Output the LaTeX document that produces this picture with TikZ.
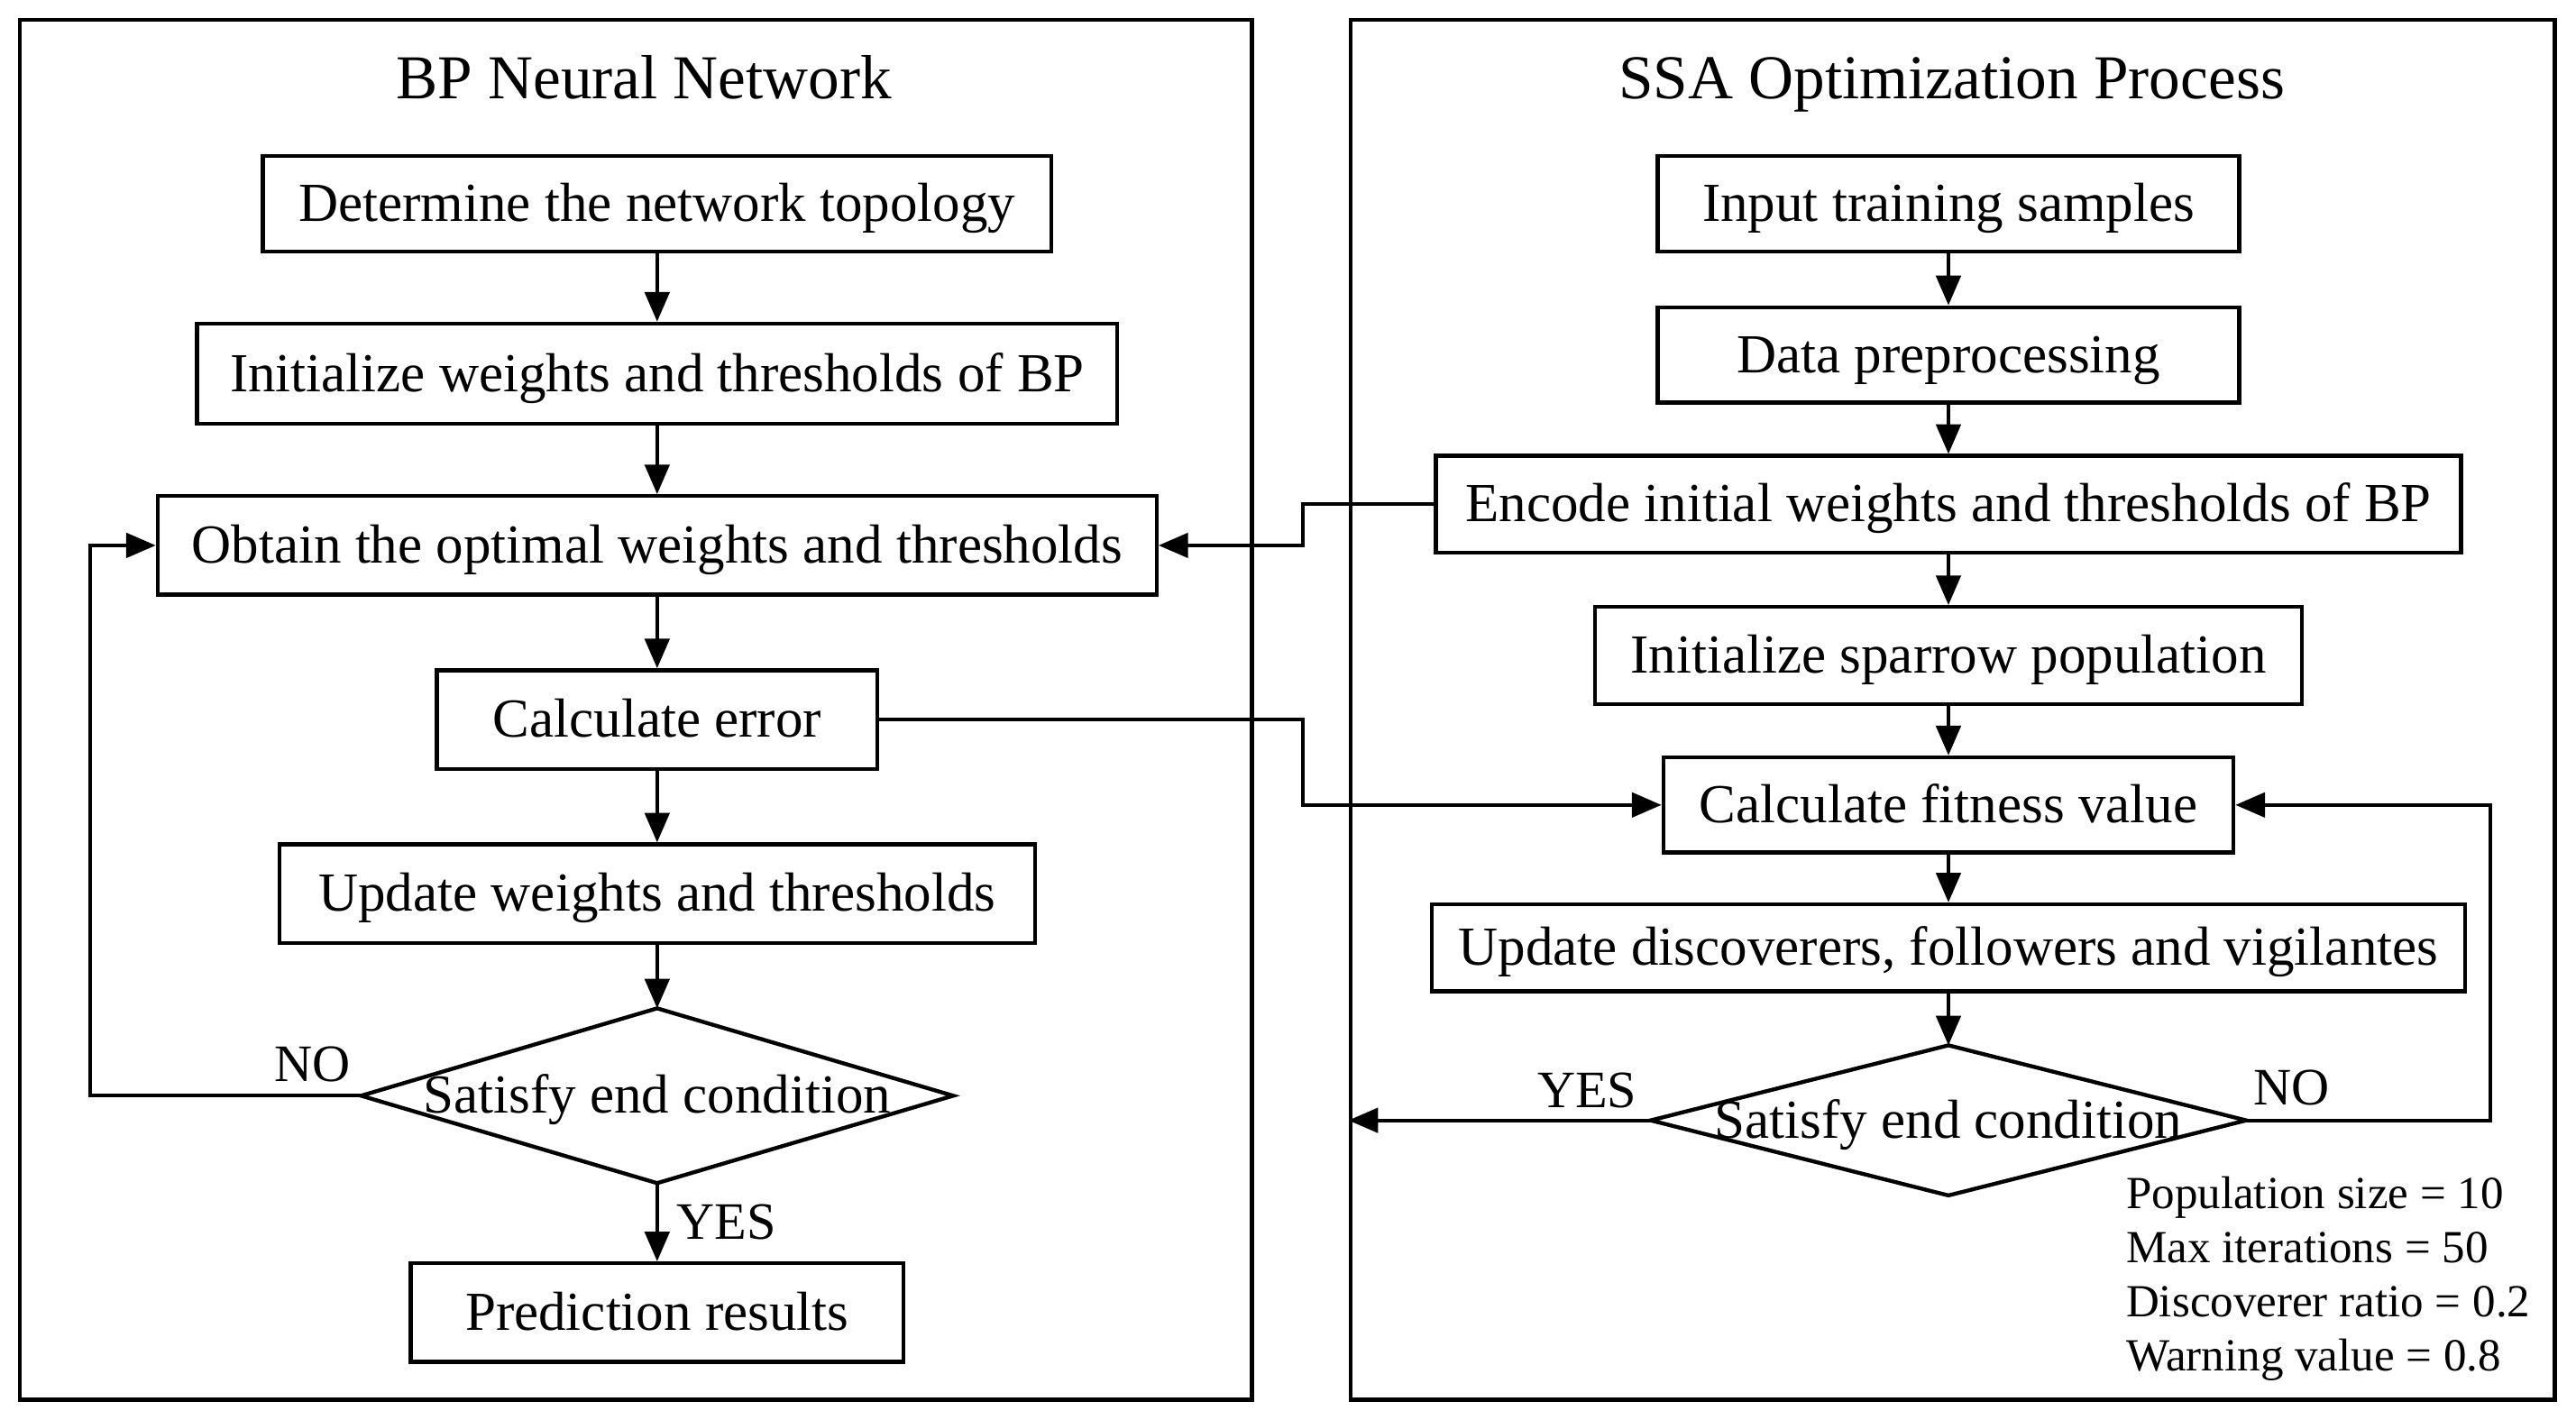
\documentclass[tikz,border=0pt]{standalone}
\usepackage{fontspec}
\setmainfont{Liberation Serif}
\usetikzlibrary{arrows.meta}
\begin{document}
\begin{tikzpicture}[x=1pt,y=-1pt,
  panel/.style={draw, line width=2.4pt, rectangle, inner sep=0pt},
  box/.style={draw, line width=2.4pt, rectangle, inner sep=0pt, minimum height=59pt, text height=28.8pt, text depth=7.4pt, font=\fontsize{33.5}{40}\selectfont},
  dtext/.style={rectangle, inner sep=0pt, text height=28.8pt, text depth=7.4pt, font=\fontsize{33.5}{40}\selectfont},
  dshape/.style={draw, line width=2.4pt, line join=miter},
  conn/.style={line width=2.1pt},
  arr/.style={conn, -{Triangle[length=18pt,width=15pt]}},
  lab/.style={inner sep=0pt, font=\fontsize{32}{38}\selectfont},
  ttl/.style={inner sep=0pt, text height=32.7pt, text depth=8.4pt, font=\fontsize{38}{44}\selectfont}
]
\useasboundingbox (0,0) rectangle (1568,864);
\fill[white] (0,0) rectangle (1568,864);

% panels
\node[panel, minimum width=750pt, minimum height=840pt] (panelL) at (387,432) {};
\node[panel, minimum width=733pt, minimum height=840pt] (panelR) at (1188.5,432) {};
\node[ttl] (tL) at (392,48) {BP Neural Network};
\node[ttl] (tR) at (1188,48) {SSA Optimization Process};

% left column
\node[box, minimum width=480pt, minimum height=58pt] (det) at (400,124) {Determine the network topology};
\node[box, minimum width=560pt, minimum height=61pt] (ini) at (400,227.5) {Initialize weights and thresholds of BP};
\node[box, minimum width=608pt, minimum height=60pt] (obt) at (400,332) {Obtain the optimal weights and thresholds};
\node[box, minimum width=268pt, minimum height=60pt] (cerr) at (400,438) {Calculate error};
\node[box, minimum width=460pt, minimum height=60pt] (upd) at (400,544) {Update weights and thresholds};
\node[dtext, minimum width=360pt, minimum height=106pt] (dia1) at (400,667) {Satisfy end condition};
\draw[dshape] (dia1.west) -- (dia1.north) -- (dia1.east) -- (dia1.south) -- cycle;
\node[box, minimum width=300pt, minimum height=60pt] (pred) at (400,799) {Prediction results};

% right column
\node[box, minimum width=354pt, minimum height=58pt] (inp) at (1186,124) {Input training samples};
\node[box, minimum width=354pt, minimum height=58pt] (dpre) at (1186,216) {Data preprocessing};
\node[box, minimum width=624pt, minimum height=59pt] (enc) at (1186,307) {Encode initial weights and thresholds of BP};
\node[box, minimum width=430pt, minimum height=59pt] (isp) at (1186,399) {Initialize sparrow population};
\node[box, minimum width=347pt, minimum height=58pt] (cfit) at (1186,490) {Calculate fitness value};
\node[box, minimum width=629pt, minimum height=53pt] (upd2) at (1186,577) {Update discoverers, followers and vigilantes};
\node[dtext, minimum width=362pt, minimum height=91pt] (dia2) at (1186,682) {Satisfy end condition};
\draw[dshape] (dia2.west) -- (dia2.north) -- (dia2.east) -- (dia2.south) -- cycle;

% parameters
\node[anchor=north west, inner sep=0pt, align=left, font=\fontsize{28}{33}\selectfont] (par) at (1294,716)
  {Population size = 10\\Max iterations = 50\\Discoverer ratio = 0.2\\Warning value = 0.8};

% left arrows
\draw[arr] (det) -- (ini);
\draw[arr] (ini) -- (obt);
\draw[arr] (obt) -- (cerr);
\draw[arr] (cerr) -- (upd);
\draw[arr] (upd) -- (dia1.north);
\draw[arr] (dia1.south) -- (pred);
\coordinate (lx) at (55,667);
\draw[arr] (dia1.west) -- (lx) |- (obt.west);
\node[lab] (noL) at (190,648) {NO};
\node[lab] (yesL) at (442,744) {YES};

% right arrows
\draw[arr] (inp) -- (dpre);
\draw[arr] (dpre) -- (enc);
\draw[arr] (enc) -- (isp);
\draw[arr] (isp) -- (cfit);
\draw[arr] (cfit) -- (upd2);
\draw[arr] (upd2) -- (dia2.north);
\coordinate (rx) at (1516,682);
\draw[arr] (dia2.east) -- (rx) |- (cfit.east);
\coordinate (yx) at (panelR.west |- dia2.west);
\draw[arr] (dia2.west) -- (yx);
\node[lab] (yesR) at (966,664) {YES};
\node[lab] (noR) at (1395,662) {NO};

% cross connectors
\coordinate (m1) at (793,307);
\draw[arr] (enc.west) -- (m1) |- (obt.east);
\coordinate (m2) at (793,438);
\draw[arr] (cerr.east) -- (m2) |- (cfit.west);
\end{tikzpicture}
\end{document}
